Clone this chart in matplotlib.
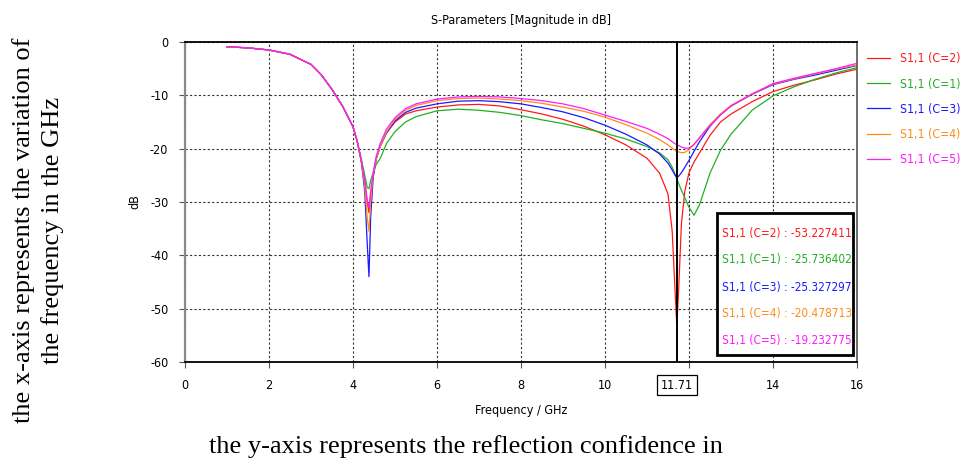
import matplotlib
matplotlib.use('Agg')
import matplotlib.pyplot as plt
from matplotlib.patches import Rectangle
import matplotlib.transforms as mtransforms

plt.rcParams['font.family'] = ['DejaVu Sans']
plt.rcParams['font.stretch'] = 'condensed'

freq = [1.0, 1.5, 2.0, 2.5, 3.0, 3.25, 3.5, 3.75, 4.0, 4.1,
        4.2, 4.28, 4.34, 4.38, 4.42, 4.48, 4.55, 4.65, 4.8, 5.0,
        5.25, 5.5, 6.0, 6.5, 7.0, 7.5, 8.0, 8.5, 9.0, 9.5,
        10.0, 10.5, 11.0, 11.3, 11.5, 11.6, 11.67, 11.71, 11.75, 11.82,
        11.9, 12.0, 12.12, 12.25, 12.5, 12.75, 13.0, 13.5, 14.0, 14.5,
        15.0, 15.5, 16.0]

# common low band part (1 .. 4.1 GHz)
base = [-0.9, -1.1, -1.5, -2.3, -4.2, -6.2, -8.9, -12.0, -15.9, -18.6]

s11_c2 = base + [-22.5, -26.0, -30.0, -32.0, -29.0, -25.0, -22.0, -19.5, -17.0, -15.0,
                 -13.5, -12.9, -12.2, -11.8, -11.7, -12.0, -12.7, -13.5, -14.5, -15.8,
                 -17.4, -19.3, -21.8, -24.6, -28.5, -35.5, -47.0, -53.2, -47.0, -34.0,
                 -28.0, -24.5, -22.5, -20.8, -17.5, -15.0, -13.5, -11.2, -9.3, -8.1,
                 -7.1, -6.0, -5.1]
s11_c1 = base + [-22.0, -25.0, -27.3, -27.5, -26.0, -24.5, -23.0, -21.8, -19.0, -16.8,
                 -15.0, -14.0, -12.9, -12.6, -12.8, -13.2, -13.8, -14.6, -15.3, -16.2,
                 -17.1, -18.2, -19.6, -20.8, -22.1, -23.5, -24.8, -25.7, -26.5, -27.8,
                 -29.2, -31.0, -32.5, -30.5, -24.6, -20.3, -17.3, -12.8, -10.1, -8.4,
                 -7.0, -5.8, -4.8]
s11_c3 = base + [-22.5, -28.0, -38.0, -44.0, -33.0, -25.5, -22.0, -19.5, -17.0, -14.8,
                 -13.2, -12.4, -11.6, -11.1, -11.0, -11.2, -11.6, -12.3, -13.1, -14.2,
                 -15.6, -17.3, -19.3, -21.0, -22.7, -24.0, -25.0, -25.3, -25.2, -24.5,
                 -23.5, -22.2, -20.5, -18.7, -15.8, -13.6, -12.0, -9.8, -8.0, -7.0,
                 -6.2, -5.3, -4.4]
s11_c4 = base + [-22.5, -27.0, -33.0, -35.5, -30.0, -25.0, -22.0, -19.5, -16.8, -14.5,
                 -12.8, -11.9, -11.0, -10.6, -10.5, -10.7, -11.0, -11.5, -12.2, -13.0,
                 -14.1, -15.5, -17.1, -18.3, -19.3, -19.9, -20.3, -20.48, -20.6, -20.75,
                 -20.7, -20.2, -19.2, -17.9, -15.5, -13.5, -11.9, -9.7, -7.9, -6.9,
                 -6.0, -5.1, -4.3]
s11_c5 = base + [-22.3, -26.0, -30.0, -31.0, -28.0, -24.5, -21.5, -19.0, -16.3, -14.2,
                 -12.5, -11.6, -10.7, -10.3, -10.2, -10.3, -10.6, -11.0, -11.6, -12.5,
                 -13.7, -14.9, -16.2, -17.3, -18.1, -18.7, -19.1, -19.23, -19.4, -19.7,
                 -19.9, -19.9, -19.2, -18.0, -15.7, -13.7, -12.0, -9.8, -7.8, -6.8,
                 -5.9, -5.0, -4.0]

labels = ['S1,1 (C=2)', 'S1,1 (C=1)', 'S1,1 (C=3)', 'S1,1 (C=4)', 'S1,1 (C=5)']
marker_vals = ['-53.227411', '-25.736402', '-25.327297', '-20.478713', '-19.232775']
colors = ['#ff1a1a', '#22b022', '#1a1aff', '#ff8c1a', '#ff1aff']
marker_f = 11.71

x_ticks = [0, 2, 4, 6, 8, 10, 12, 14, 16]
y_ticks = [0, -10, -20, -30, -40, -50, -60]

fig = plt.figure(figsize=(9.63, 4.62), dpi=100)
ax = fig.add_axes([185 / 963, 1 - 362 / 462, 672 / 963, 320 / 462])

for vals, lab, c in zip([s11_c2, s11_c1, s11_c3, s11_c4, s11_c5], labels, colors):
    ax.plot(freq, vals, color=c, lw=0.9, label=lab)

ax.axvline(marker_f, color='black', lw=1.4, zorder=5)

ax.set_xlim(0, 16)
ax.set_ylim(-60, 0)
ax.set_xticks(x_ticks)
ax.set_xticklabels([str(t) if t != 12 else '' for t in x_ticks], fontsize=9)
ax.set_yticks(y_ticks)
ax.set_yticklabels([str(t) for t in y_ticks], fontsize=9)
ax.tick_params(direction='out', length=4, width=0.8, color='#555555', pad=8)
ax.grid(True, color='#333333', linestyle=(0, (2, 2)), lw=0.8)

for s in ['top', 'bottom']:
    ax.spines[s].set_linewidth(1.3)
    ax.spines[s].set_color('black')
ax.spines['left'].set_color('#8a8a8a')
ax.spines['left'].set_linewidth(1.6)
ax.spines['right'].set_color('#555555')
ax.spines['right'].set_linewidth(1.2)

ax.set_title('S-Parameters [Magnitude in dB]', fontsize=9, pad=13)
ax.set_xlabel('Frequency / GHz', fontsize=9, labelpad=9)
ax.set_ylabel('dB', fontsize=9, labelpad=6)

# boxed marker label under the x axis
trans = mtransforms.blended_transform_factory(ax.transData, ax.transAxes)
ax.text(marker_f, -0.072, '11.71', transform=trans, ha='center', va='center', fontsize=9,
        bbox=dict(boxstyle='square,pad=0.3', fc='white', ec='black', lw=0.9))

# marker readout box
ax.add_patch(Rectangle((0.792, 0.022), 0.202, 0.444, transform=ax.transAxes,
                       fc='white', ec='black', lw=2, zorder=6))
ys = [0.403, 0.319, 0.234, 0.150, 0.066]
for y, lab, v, c in zip(ys, labels, marker_vals, colors):
    ax.text(0.799, y, f'{lab} : {v}', transform=ax.transAxes, color=c,
            fontsize=8.5, va='center', ha='left', zorder=7)

leg = ax.legend(loc='upper left', bbox_to_anchor=(1.008, 0.983), frameon=False,
                fontsize=8.8, handlelength=1.9, handletextpad=0.8, labelspacing=1.0,
                labelcolor='linecolor', borderaxespad=0)

fig.text(466 / 963, 1 - 447 / 462, 'the y-axis represents the reflection confidence in',
         family='Liberation Serif', stretch='normal', fontsize=19, ha='center', va='center')
fig.text(38 / 963, 1 - 230 / 462, 'the x-axis represents the variation of\nthe frequency in the GHz',
         family='Liberation Serif', stretch='normal', fontsize=19, ha='center', va='center',
         rotation=90, linespacing=1.3, multialignment='center')

fig.savefig('out.png', dpi=100)
